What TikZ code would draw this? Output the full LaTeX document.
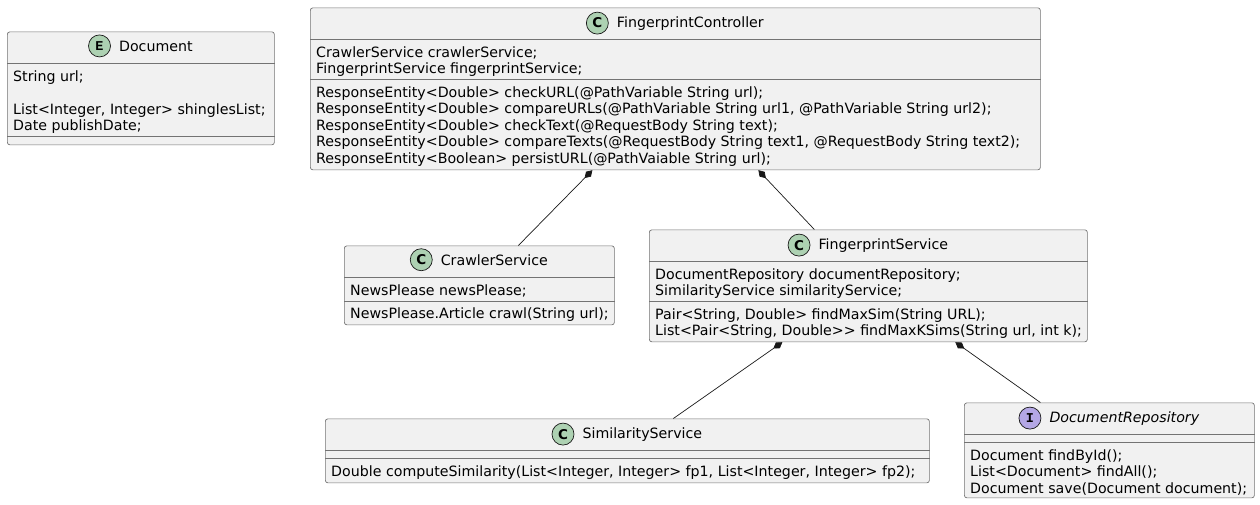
\documentclass[tikz,border=0pt]{standalone}
\usepackage{fontspec}
\setmainfont{DejaVu Sans}
\newfontfamily\iconfont{Liberation Mono}
\usetikzlibrary{positioning,arrows.meta,calc}
\definecolor{boxfill}{HTML}{F1F1F1}
\definecolor{boxline}{HTML}{181818}
\definecolor{classicon}{HTML}{ADD1B2}
\definecolor{ifaceicon}{HTML}{B4A7E5}

\tikzset{
  classbox/.style={draw=black!55, line width=0.7pt, fill=boxfill, rounded corners=2.5pt, anchor=north west, inner sep=0pt},
  sepline/.style={draw=black!55, line width=0.7pt},
  title/.style={font=\fontsize{14.2}{16.5}\selectfont, inner sep=0pt, anchor=base},
  member/.style={font=\fontsize{14.2}{16.5}\selectfont, inner sep=0pt, anchor=base west},
  icon/.style={circle, draw=boxline, line width=0.7pt, fill=classicon, minimum size=22pt, inner sep=0pt, font=\fontsize{13.5}{13.5}\selectfont\bfseries},
  comp/.style={draw=boxline, line width=0.7pt, {Diamond[length=11pt, width=7pt]}-},
}

\begin{document}
\begin{tikzpicture}[x=1pt, y=-1pt]
\useasboundingbox (0,0) rectangle (1260,504);

% class boxes
\node[classbox, minimum width=267, minimum height=113] (doc) at (7,31.5) {};
\node[classbox, minimum width=730, minimum height=162] (fc) at (310,7.5) {};
\node[classbox, minimum width=270, minimum height=79] (cs) at (344,245.5) {};
\node[classbox, minimum width=438, minimum height=112] (fs) at (649,229.5) {};
\node[classbox, minimum width=604, minimum height=64] (ss) at (325,418.5) {};
\node[classbox, minimum width=290, minimum height=95] (dr) at (964,402.5) {};

% headers
\node[title] (doc-t) at ([xshift=15pt, yshift=-19.5pt]doc.north) {Document};
\node[icon, left=8pt of doc-t] {\iconfont E};
\node[title] (fc-t) at ([xshift=15pt, yshift=-19.5pt]fc.north) {FingerprintController};
\node[icon, left=8pt of fc-t] {C};
\node[title] (cs-t) at ([xshift=15pt, yshift=-19.5pt]cs.north) {CrawlerService};
\node[icon, left=8pt of cs-t] {C};
\node[title] (fs-t) at ([xshift=15pt, yshift=-19.5pt]fs.north) {FingerprintService};
\node[icon, left=8pt of fs-t] {C};
\node[title] (ss-t) at ([xshift=15pt, yshift=-19.5pt]ss.north) {SimilarityService};
\node[icon, left=8pt of ss-t] {C};
\node[title, font=\fontsize{14.2}{16.5}\selectfont\itshape] (dr-t) at ([xshift=15pt, yshift=-19.5pt]dr.north) {DocumentRepository};
\node[icon, fill=ifaceicon, left=8pt of dr-t] {\iconfont I};

% compartments
\foreach \b/\d in {doc/32, doc/105, fc/32, fc/72, cs/32, cs/55.5, fs/32, fs/72, ss/32, ss/40, dr/32, dr/40}
  \draw[sepline] ([yshift=-\d pt]\b.north west) -- ([yshift=-\d pt]\b.north east);

% members
\foreach \t [count=\i from 0] in {String url;, {}, {List<Integer, Integer> shinglesList;}, Date publishDate;}
  \node[member] at ([xshift=6pt, yshift=-49.5pt-16.5pt*\i]doc.north west) {\t};
\foreach \t [count=\i from 0] in {CrawlerService crawlerService;, FingerprintService fingerprintService;}
  \node[member] at ([xshift=6pt, yshift=-49.5pt-16.5pt*\i]fc.north west) {\t};
\foreach \t [count=\i from 0] in {{ResponseEntity<Double> checkURL(@PathVariable String url);},
    {ResponseEntity<Double> compareURLs(@PathVariable String url1, @PathVariable String url2);},
    {ResponseEntity<Double> checkText(@RequestBody String text);},
    {ResponseEntity<Double> compareTexts(@RequestBody String text1, @RequestBody String text2);},
    {ResponseEntity<Boolean> persistURL(@PathVaiable String url);}}
  \node[member] at ([xshift=6pt, yshift=-89.5pt-16.5pt*\i]fc.north west) {\t};
\node[member] at ([xshift=6pt, yshift=-49.5pt]cs.north west) {NewsPlease newsPlease;};
\node[member] at ([xshift=6pt, yshift=-73pt]cs.north west) {NewsPlease.Article crawl(String url);};
\foreach \t [count=\i from 0] in {DocumentRepository documentRepository;, SimilarityService similarityService;}
  \node[member] at ([xshift=6pt, yshift=-49.5pt-16.5pt*\i]fs.north west) {\t};
\foreach \t [count=\i from 0] in {{Pair<String, Double> findMaxSim(String URL);}, {List<Pair<String, Double>{}> findMaxKSims(String url, int k);}}
  \node[member] at ([xshift=6pt, yshift=-89.5pt-16.5pt*\i]fs.north west) {\t};
\node[member] at ([xshift=6pt, yshift=-57.5pt]ss.north west) {Double computeSimilarity(List<Integer, Integer> fp1, List<Integer, Integer> fp2);};
\foreach \t [count=\i from 0] in {Document findById();, List<Document> findAll();, Document save(Document document);}
  \node[member] at ([xshift=6pt, yshift=-57.5pt-16.5pt*\i]dr.north west) {\t};

% compositions
\draw[comp] ([xshift=-83pt]fc.south) -- ([xshift=39pt]cs.north);
\draw[comp] ([xshift=83pt]fc.south) -- ([xshift=-54pt]fs.north);
\draw[comp] ([xshift=-86pt]fs.south) -- ([xshift=46pt]ss.north);
\draw[comp] ([xshift=87pt]fs.south) -- ([xshift=-69pt]dr.north);
\end{tikzpicture}
\end{document}
